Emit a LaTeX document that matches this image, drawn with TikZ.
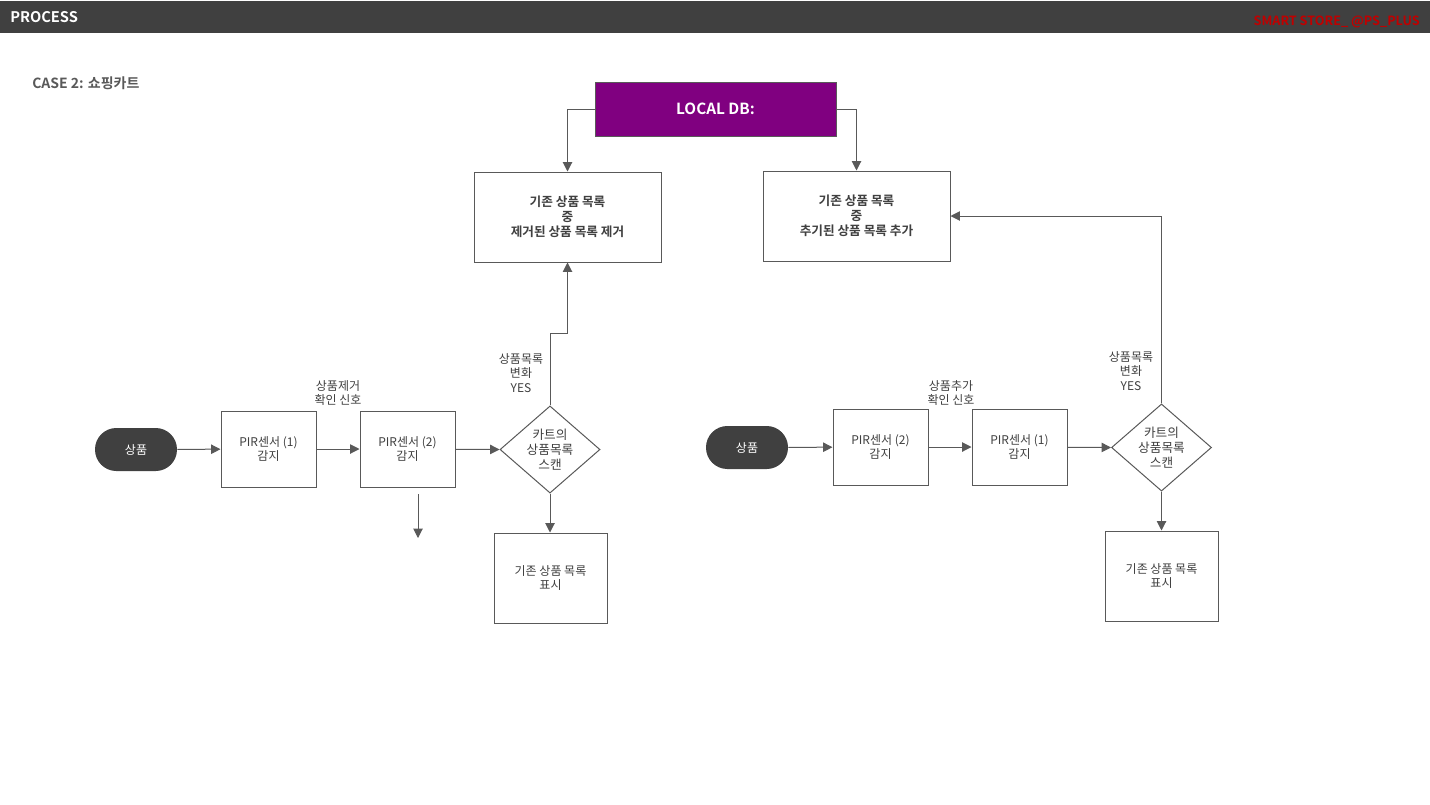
\documentclass[tikz,border=0pt]{standalone}
\usepackage{fontspec}
\setmainfont{Noto Sans CJK KR}[BoldFont={Noto Sans CJK KR Bold}]
\usetikzlibrary{arrows.meta,shapes.geometric,calc}
\definecolor{barbg}{HTML}{404040}
\definecolor{ink}{HTML}{404040}
\definecolor{wire}{HTML}{595959}
\definecolor{dbfill}{HTML}{800080}
\definecolor{brand}{HTML}{C00000}
\begin{document}
\begin{tikzpicture}[x=0.75pt,y=-0.75pt,
  every node/.style={text=ink,font=\fontsize{9}{11}\selectfont},
  box/.style={draw=wire,line width=0.75pt,fill=white,align=center,inner sep=0pt},
  bigbox/.style={box,minimum width=140.25pt,minimum height=67.5pt,font=\bfseries\fontsize{9.5}{11.25}\selectfont},
  sensor/.style={box,minimum width=71.25pt,minimum height=57pt},
  showbox/.style={box,minimum width=84.75pt,minimum height=67.5pt},
  pill/.style={fill=barbg,draw=none,rounded corners=16pt,minimum width=61.5pt,minimum height=32.25pt,inner sep=0pt,text=white},
  decide/.style={diamond,draw=wire,line width=0.75pt,fill=white,inner sep=0pt,minimum width=75pt,minimum height=63.75pt,align=center,font=\fontsize{9.5}{11}\selectfont},
  note/.style={align=center,inner sep=0pt},
  arr/.style={draw=wire,line width=0.75pt,-{Triangle[length=7pt,width=7pt]}}
]
\useasboundingbox (0,0) rectangle (1430,804);
\fill[white] (0,0) rectangle (1430,804);

% header bar
\fill[barbg] (0,1) rectangle (1430,33);
\node[anchor=west,text=white,font=\bfseries\fontsize{11}{13}\selectfont,inner sep=0pt] (title) at (10,17) {PROCESS};
\node[anchor=east,text=brand,font=\bfseries\fontsize{9.5}{11}\selectfont,inner sep=0pt] (brandtag) at (1420,22) {SMART STORE\_ @PS\_PLUS};
\node[anchor=west,text=wire,font=\bfseries\fontsize{10.5}{12}\selectfont,inner sep=0pt] (case) at (32,83) {CASE 2: 쇼핑카트};

% database
\node[fill=dbfill,draw=wire,line width=0.6pt,minimum width=180.75pt,minimum height=40.5pt,text=white,font=\bfseries\fontsize{11.5}{13}\selectfont] (db) at (715.5,109) {LOCAL DB:};

% list update boxes
\node[bigbox] (rmv) at (567.5,217) {기존 상품 목록\\중\\제거된 상품 목록 제거};
\node[bigbox] (add) at (856.5,216) {기존 상품 목록\\중\\추기된 상품 목록 추가};

% removal flow
\node[pill] (p1) at (136,449.5) {상품};
\node[sensor] (s11) at (268.5,449) {PIR센서 (1)\\감지};
\node[sensor] (s12) at (407.5,449) {PIR센서 (2)\\감지};
\node[decide] (d1) at (550,449.5) {카트의\\상품목록\\스캔};
\node[showbox] (v1) at (550.5,578) {기존 상품 목록\\표시};
\node[note] (l11) at (338,393) {상품제거\\확인 신호};
\node[note] (l12) at (521,373) {상품목록\\변화\\YES};
\coordinate (o1) at (418,494);
\coordinate (o2) at (418,538);

% addition flow
\node[pill] (p2) at (747,447.5) {상품};
\node[sensor] (s21) at (880.5,447) {PIR센서 (2)\\감지};
\node[sensor] (s22) at (1019.5,447) {PIR센서 (1)\\감지};
\node[decide] (d2) at (1161.5,447.5) {카트의\\상품목록\\스캔};
\node[showbox] (v2) at (1161.5,576) {기존 상품 목록\\표시};
\node[note] (l21) at (951,393) {상품추가\\확인 신호};
\node[note] (l22) at (1131,371) {상품목록\\변화\\YES};

% connectors
\draw[arr] (db.west) -| (rmv.north);
\draw[arr] (db.east) -| (add.north);
\draw[arr] (p1) -- (s11);
\draw[arr] (s11) -- (s12);
\draw[arr] (s12) -- (d1.west);
\draw[arr] (d1.north) |- ($(rmv.south)!0.5!(d1.north)$) -| (rmv.south);
\draw[arr] (d1.south) -- (v1.north -| d1.south);
\draw[arr] (o1) -- (o2);
\draw[arr] (p2) -- (s21);
\draw[arr] (s21) -- (s22);
\draw[arr] (s22) -- (d2.west);
\draw[arr] (d2.north) |- (add.east);
\draw[arr] (d2.south) -- (v2.north);
\end{tikzpicture}
\end{document}
